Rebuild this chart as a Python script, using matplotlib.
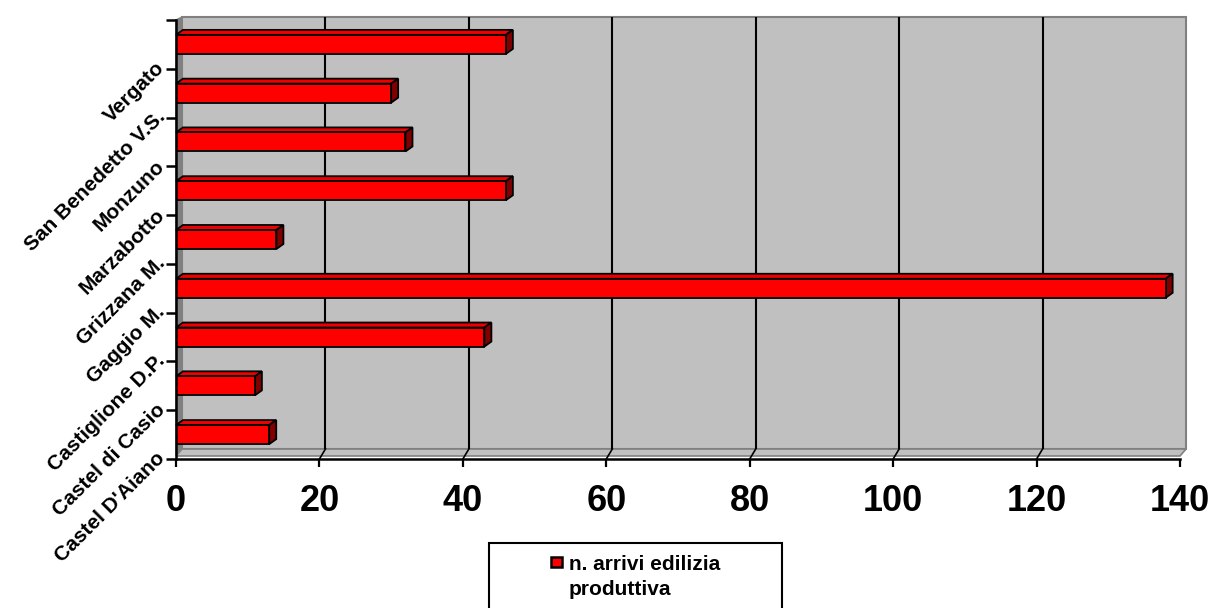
import matplotlib
matplotlib.use("Agg")
import matplotlib.pyplot as plt
from matplotlib.patches import Polygon, Rectangle

plt.rcParams['font.family'] = ['Liberation Sans', 'DejaVu Sans']

# ---- data ----
comuni = ["Castel D'Aiano", "Castel di Casio", "Castiglione D.P.", "Gaggio M.",
          "Grizzana M.", "Marzabotto", "Monzuno", "San Benedetto V.S.", "Vergato"]
arrivi = [13, 11, 43, 138, 14, 46, 32, 30, 46]
x_ticks = [0, 20, 40, 60, 80, 100, 120, 140]
serie_label = ["n. arrivi edilizia", "produttiva"]

W, H, DPI = 1212, 608, 100
fig = plt.figure(figsize=(W / DPI, H / DPI), dpi=DPI)

# background layer in pixel coordinates (legend box)
bg = fig.add_axes([0, 0, 1, 1], zorder=0)
bg.set_xlim(0, W)
bg.set_ylim(H, 0)
bg.axis('off')

# main plot area (front plane)
L, R, T, B = 176, 1180, 20, 459
ax = fig.add_axes([L / W, (H - B) / H, (R - L) / W, (B - T) / H], zorder=1)
xmin, xmax = 0, 140
ymin, ymax = -0.5, len(comuni) - 0.5
ax.set_xlim(xmin, xmax)
ax.set_ylim(ymin, ymax)
ax.patch.set_visible(False)

sx = (xmax - xmin) / (R - L)      # data units per pixel (x)
sy = (ymax - ymin) / (B - T)      # data units per pixel (y)

wall = '#C0C0C0'
wall_dark = '#808080'

# depth of the 3D box
wdx = 6 * sx
w_top = ymax + 3 * sy
w_bot = ymin + 10 * sy
f_front = ymin + 3 * sy

# back wall
ax.add_patch(Rectangle((xmin + wdx, w_bot), (xmax - xmin), w_top - w_bot,
                       facecolor=wall, edgecolor=wall_dark, lw=1.5, zorder=1, clip_on=False))
# left wall
ax.add_patch(Polygon([(xmin, ymax), (xmin + wdx, w_top), (xmin + wdx, w_bot), (xmin, f_front)],
                     closed=True, facecolor=wall_dark, edgecolor=wall_dark, lw=1,
                     zorder=1.5, clip_on=False))
# floor
ax.add_patch(Polygon([(xmin, f_front), (xmax, f_front), (xmax + wdx, w_bot), (xmin + wdx, w_bot)],
                     closed=True, facecolor=wall, edgecolor=wall_dark, lw=1.2,
                     zorder=1.5, clip_on=False))

# gridlines on the back wall and the floor
for v in x_ticks[1:-1]:
    ax.plot([v + wdx, v + wdx], [w_bot, w_top], color='black', lw=1.5, zorder=2,
            clip_on=False, solid_capstyle='butt')
    ax.plot([v, v + wdx], [ymin, w_bot], color='black', lw=1.2, zorder=2, clip_on=False)

# bars with 3D top and side faces
bh = 0.39
bdx = 7 * sx
bdy = 5 * sy
ypos = list(range(len(comuni)))
ax.barh(ypos, arrivi, height=bh, color='#FF0000', edgecolor='black', lw=1.3, zorder=4)
for yc, v in zip(ypos, arrivi):
    yt, yb = yc + bh / 2, yc - bh / 2
    ax.add_patch(Polygon([(0, yt), (v, yt), (v + bdx, yt + bdy), (bdx, yt + bdy)],
                         closed=True, facecolor='#EE0000', edgecolor='black', lw=1.3,
                         zorder=3.5, clip_on=False))
    ax.add_patch(Polygon([(v, yb), (v, yt), (v + bdx, yt + bdy), (v + bdx, yb + bdy)],
                         closed=True, facecolor='#800000', edgecolor='black', lw=1.3,
                         zorder=3.5, clip_on=False))

# axes lines and ticks
for s in ['top', 'right']:
    ax.spines[s].set_visible(False)
for s in ['left', 'bottom']:
    ax.spines[s].set_linewidth(1.8)
    ax.spines[s].set_color('black')
    ax.spines[s].set_zorder(5)

ax.set_xticks(x_ticks)
ax.set_xticklabels([str(t) for t in x_ticks], fontsize=26, fontweight='bold')
ax.tick_params(axis='x', direction='out', length=6, width=1.6, pad=12)

ax.set_yticks([i - 0.5 for i in range(len(comuni) + 1)])
ax.set_yticklabels([])
ax.tick_params(axis='y', direction='out', length=7, width=1.8)

# category labels, rotated
for yc, name in zip(ypos, comuni):
    ax.text(-14 / (R - L), yc - 0.43, name, transform=ax.get_yaxis_transform(),
            rotation=45, rotation_mode='anchor', ha='right', va='center',
            fontsize=15, fontweight='bold', clip_on=False)

# legend
bg.add_patch(Rectangle((489, 543), 782 - 489, 80, facecolor='white', edgecolor='black',
                       lw=1.5, clip_on=False))
bg.add_patch(Rectangle((551, 557), 11, 10, facecolor='#FF0000', edgecolor='black', lw=1.8))
bg.text(569, 570, serie_label[0], fontsize=15, fontweight='bold', ha='left', va='baseline')
bg.text(569, 595, serie_label[1], fontsize=15, fontweight='bold', ha='left', va='baseline')

fig.savefig('out.png', dpi=DPI)
